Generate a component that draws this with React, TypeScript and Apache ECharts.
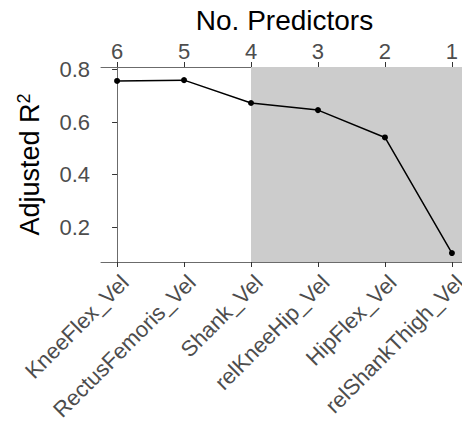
import React, { useEffect, useRef } from "react";
import * as echarts from "echarts";

const predictors = [
  "KneeFlex_Vel",
  "RectusFemoris_Vel",
  "Shank_Vel",
  "relKneeHip_Vel",
  "HipFlex_Vel",
  "relShankThigh_Vel",
];
const numPredictors = [6, 5, 4, 3, 2, 1];
const adjR2 = [0.757, 0.76, 0.673, 0.646, 0.542, 0.102];
const yTicks = [0.2, 0.4, 0.6, 0.8];
const shadeFrom = "Shank_Vel";

const FONT = "'Liberation Sans', Arial, sans-serif";

export default function App() {
  const ref = useRef<HTMLDivElement>(null);
  useEffect(() => {
    if (!ref.current) return;
    const chart = echarts.init(ref.current, undefined, { renderer: "svg" });
    const idx = predictors.map((_, i) => i);
    const xMin = -0.24;
    const xMax = predictors.length - 1 + 0.24;
    const axisLine = { show: true, lineStyle: { color: "#6b6b6b", width: 1 } };
    const axisTick = { show: true, length: 5, lineStyle: { color: "#333333", width: 1 } };
    chart.setOption({
      animation: false,
      backgroundColor: "#ffffff",
      textStyle: { fontFamily: FONT },
      grid: {
        left: 101,
        width: 367,
        top: 67,
        bottom: 163,
        containLabel: false,
        outerBoundsMode: "none",
      },
      xAxis: [
        {
          type: "value",
          position: "bottom",
          min: xMin,
          max: xMax,
          axisLine,
          axisTick: { ...axisTick, customValues: idx },
          splitLine: { show: false },
          axisLabel: {
            customValues: idx,
            formatter: (v: number) => predictors[Math.round(v)],
            rotate: 45,
            align: "right",
            verticalAlign: "top",
            margin: 9,
            fontSize: 22,
            color: "#4d4d4d",
            fontFamily: FONT,
          },
        },
        {
          type: "value",
          position: "top",
          min: xMin,
          max: xMax,
          name: "No. Predictors",
          nameLocation: "middle",
          nameGap: 33,
          nameTextStyle: { fontSize: 28, color: "#000000", fontFamily: FONT },
          axisLine,
          axisTick: { ...axisTick, customValues: idx },
          splitLine: { show: false },
          axisLabel: {
            customValues: idx,
            formatter: (v: number) => String(numPredictors[Math.round(v)]),
            margin: 5,
            fontSize: 22,
            color: "#4d4d4d",
            fontFamily: FONT,
          },
        },
      ],
      yAxis: {
        type: "value",
        min: 0.068,
        max: 0.81,
        name: "Adjusted R{sup|2}",
        nameLocation: "middle",
        nameGap: 56,
        nameTextStyle: {
          fontSize: 27,
          color: "#000000",
          fontFamily: FONT,
          rich: {
            sup: { fontSize: 18, color: "#000000", fontFamily: FONT, verticalAlign: "top", lineHeight: 30 },
          },
        },
        axisLine,
        axisTick: { ...axisTick, customValues: yTicks },
        splitLine: { show: false },
        axisLabel: {
          customValues: yTicks,
          formatter: (v: number) => v.toFixed(1),
          margin: 11,
          fontSize: 22,
          color: "#4d4d4d",
          fontFamily: FONT,
        },
      },
      series: [
        {
          type: "line",
          xAxisIndex: 0,
          data: adjR2.map((v, i) => [i, v]),
          symbol: "circle",
          symbolSize: 6,
          lineStyle: { color: "#000000", width: 1.5 },
          itemStyle: { color: "#000000" },
          silent: true,
          markArea: {
            silent: true,
            itemStyle: { color: "#cccccc" },
            data: [[{ xAxis: predictors.indexOf(shadeFrom) }, { xAxis: xMax }]],
          },
        },
      ],
    });
    return () => chart.dispose();
  }, []);
  return (
    <div
      ref={ref}
      style={{ position: "absolute", left: 0, top: 0, width: 462, height: 425, background: "#fff" }}
    />
  );
}
